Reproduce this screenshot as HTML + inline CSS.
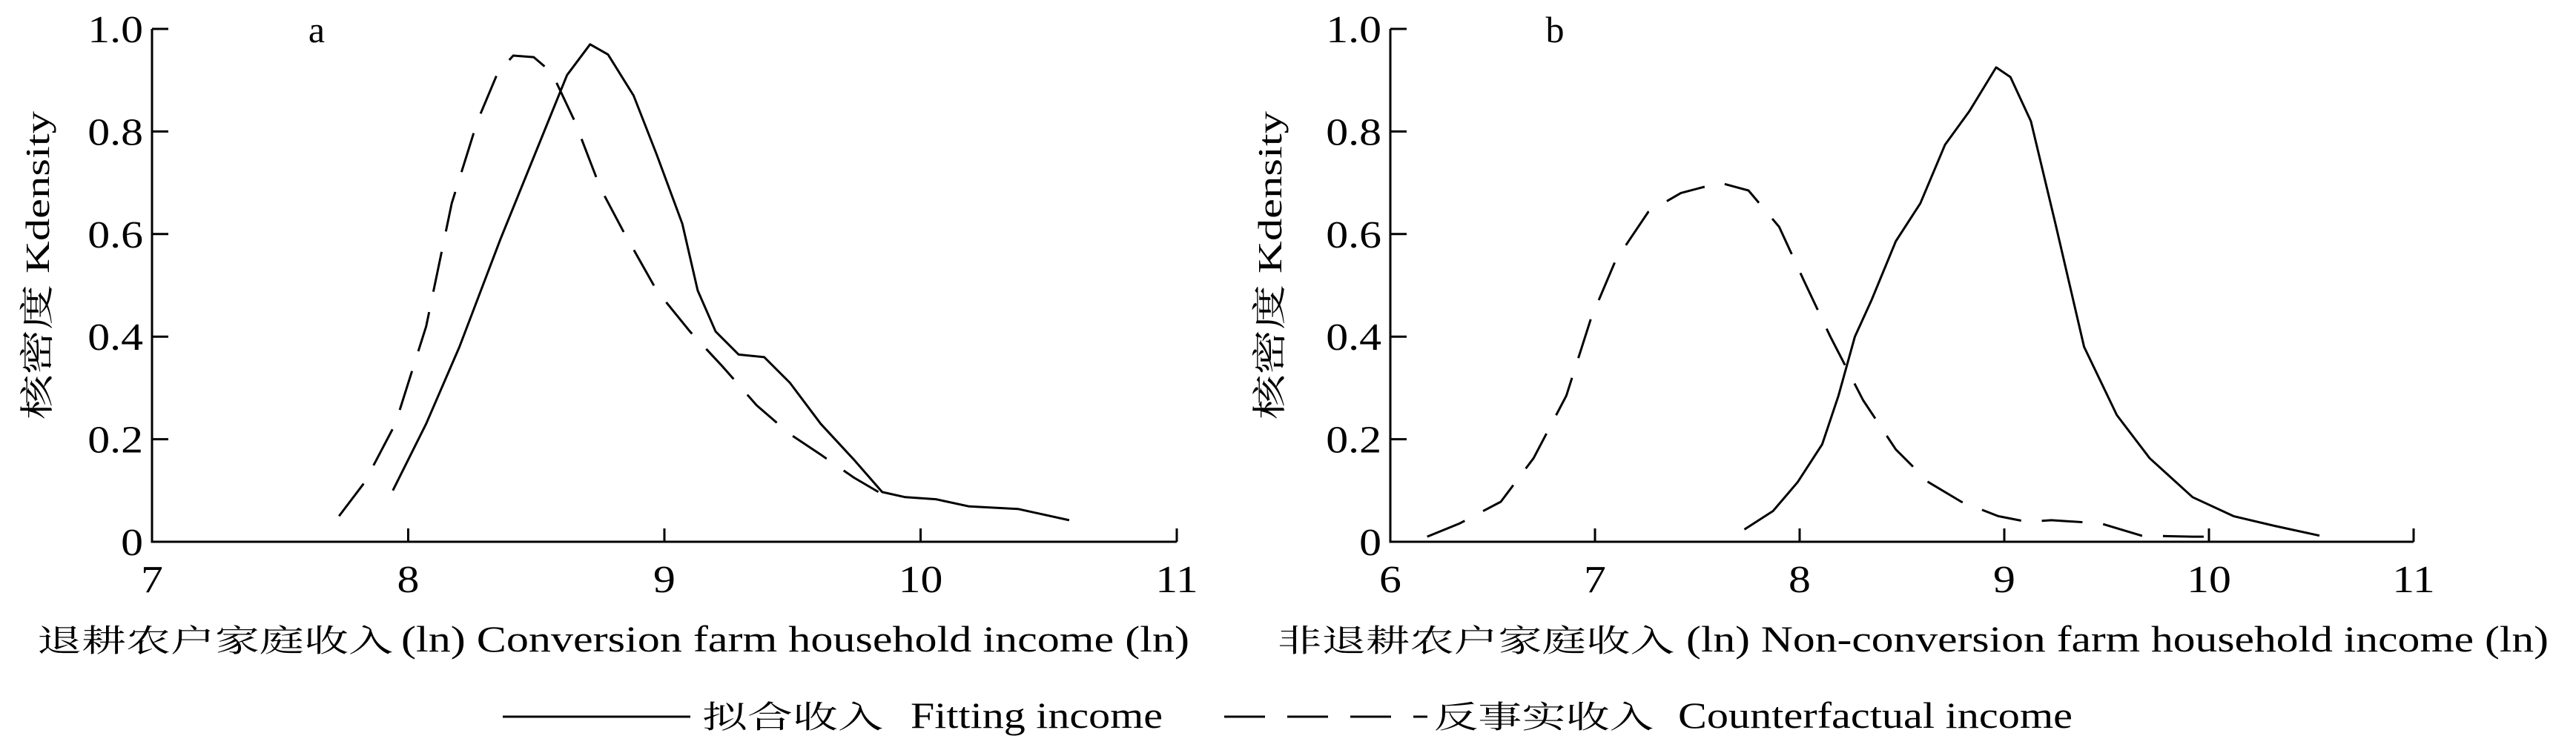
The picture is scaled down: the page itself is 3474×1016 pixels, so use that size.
<!DOCTYPE html>
<html><head><meta charset="utf-8"><style>
html,body{margin:0;padding:0;background:#fff;}
svg{display:block;}
text{font-family:"Liberation Serif","Noto Serif CJK SC","Noto Sans CJK SC",serif;fill:#000;}
</style></head><body>
<svg id="chart" width="3474" height="1016" viewBox="0 0 3474 1016" xmlns="http://www.w3.org/2000/svg">
<g id="root"></g>
<g>
  <line x1="678" y1="967" x2="931" y2="967" stroke="#000" stroke-width="3"/>
  <text x="947" y="982" font-size="42" textLength="244" lengthAdjust="spacingAndGlyphs">拟合收入</text>
  <text x="1228" y="982" font-size="50" textLength="340" lengthAdjust="spacingAndGlyphs">Fitting income</text>
  <line x1="1651" y1="967" x2="1925" y2="967" stroke="#000" stroke-width="3" stroke-dasharray="55,30"/>
  <text x="1934" y="982" font-size="42" textLength="296" lengthAdjust="spacingAndGlyphs">反事实收入</text>
  <text x="2263" y="982" font-size="50" textLength="532" lengthAdjust="spacingAndGlyphs">Counterfactual income</text>
</g>
</svg>
<script>
// Panel a data
const aFitX = [7.94,8.07,8.20,8.36,8.49,8.62,8.71,8.78,8.88,8.97,9.07,9.13,9.20,9.29,9.39,9.49,9.61,9.74,9.85,9.94,10.06,10.19,10.38,10.58];
const aFitY = [0.10,0.23,0.38,0.59,0.75,0.91,0.97,0.95,0.87,0.755,0.62,0.49,0.41,0.365,0.36,0.31,0.23,0.16,0.097,0.087,0.083,0.069,0.064,0.042];
const aCfX = [7.73,7.83,7.95,8.07,8.17,8.27,8.35,8.41,8.49,8.56,8.65,8.75,8.84,8.97,9.10,9.23,9.36,9.49,9.61,9.74,9.87];
const aCfY = [0.05,0.116,0.23,0.42,0.66,0.82,0.915,0.948,0.945,0.915,0.82,0.69,0.605,0.49,0.41,0.34,0.266,0.21,0.17,0.125,0.087];
// Panel b data
const bFitX = [7.73,7.87,7.99,8.11,8.19,8.27,8.35,8.47,8.59,8.71,8.83,8.96,9.03,9.13,9.25,9.39,9.55,9.71,9.92,10.12,10.32,10.54];
const bFitY = [0.024,0.06,0.116,0.19,0.285,0.40,0.47,0.586,0.66,0.774,0.84,0.925,0.906,0.82,0.62,0.38,0.247,0.163,0.087,0.05,0.031,0.012];
const bCfX = [6.18,6.34,6.54,6.70,6.86,6.98,7.10,7.26,7.42,7.61,7.75,7.90,8.02,8.15,8.31,8.47,8.63,8.79,8.97,9.11,9.23,9.47,9.67,9.92,10.04];
const bCfY = [0.01,0.036,0.078,0.163,0.285,0.435,0.548,0.643,0.68,0.70,0.685,0.614,0.51,0.40,0.276,0.18,0.116,0.078,0.05,0.039,0.042,0.036,0.012,0.01,0.01];
const aXTicks = [7,8,9,10,11];
const bXTicks = [6,7,8,9,10,11];
const yTicks = [0,0.2,0.4,0.6,0.8,1.0];
const yTickLabels = ["0","0.2","0.4","0.6","0.8","1.0"];

const NS = "http://www.w3.org/2000/svg";
const root = document.getElementById('root');
function mk(tag, attrs, parent){ const e=document.createElementNS(NS,tag); for(const k in attrs) e.setAttribute(k,attrs[k]); (parent||root).appendChild(e); return e; }

function panel(cfg){
  const g = mk('g',{});
  
  
  const sx = v => cfg.x0 + (v-cfg.xmin)/(cfg.xmax-cfg.xmin)*(cfg.x1-cfg.x0);
  const sy = v => 731 - v*(731-39);
  // axes
  const ax = mk('path',{d:`M${cfg.x0},39 L${cfg.x0},731 L${cfg.x1},731`,fill:'none',stroke:'#000','stroke-width':3},g);
  
  
  yTicks.forEach((t,i)=>{
    const y=sy(t);
    if(t>0){ const tk=mk('line',{x1:cfg.x0,y1:y,x2:cfg.x0+22,y2:y,stroke:'#000','stroke-width':3},g);
      
       }
    const lb=mk('text',{x:0,y:0,'font-size':52,'text-anchor':'end',transform:`translate(${cfg.x0-12},${y+18}) scale(1.15,1)`},g);
    lb.textContent=yTickLabels[i];
    
    
  });
  cfg.xticks.forEach(t=>{
    const x=sx(t);
    if(t>cfg.xmin){ const tk=mk('line',{x1:x,y1:731,x2:x,y2:713,stroke:'#000','stroke-width':3},g);
      
       }
    const lb=mk('text',{x:0,y:0,'font-size':52,'text-anchor':'middle',transform:`translate(${x},${799}) scale(1.15,1)`},g);
    lb.textContent=String(t);
    
    
  });
  const line=(xs,ys,dash,name)=>{
    const d=xs.map((v,i)=>(i?'L':'M')+sx(v).toFixed(1)+','+sy(ys[i]).toFixed(1)).join(' ');
    const p=mk('path',{d,fill:'none',stroke:'#000','stroke-width':3,'stroke-linejoin':'round'},g);
    if(dash) p.setAttribute('stroke-dasharray',dash);
    
    
  };
  line(cfg.fitX,cfg.fitY,null,'fitting-income-line-'+cfg.id);
  line(cfg.cfX,cfg.cfY,'55,28','counterfactual-income-line-'+cfg.id);
  const pl=mk('text',{x:cfg.labelX,y:57,'font-size':50,'text-anchor':'middle'},g);
  pl.textContent=cfg.id;
  
  
  // y title
  const yt=mk('text',{x:0,y:0,'font-size':46,'text-anchor':'middle',transform:`translate(${cfg.ytX},358) rotate(-90)`,textLength:416,lengthAdjust:'spacingAndGlyphs'},g);
  yt.textContent='核密度  Kdensity';
  
  
  // x title
  const c=mk('text',{x:cfg.tX0,y:879,'font-size':42,textLength:cfg.cnW,lengthAdjust:'spacingAndGlyphs'},g);
  c.textContent=cfg.cn;
  
  
  const e=mk('text',{x:cfg.enX,y:879,'font-size':50,textLength:cfg.enW,lengthAdjust:'spacingAndGlyphs'},g);
  e.textContent=cfg.en;
  
  
}
panel({id:'a',x0:205,x1:1587,xmin:7,xmax:11,xticks:aXTicks,fitX:aFitX,fitY:aFitY,cfX:aCfX,cfY:aCfY,labelX:427,ytX:66,
  tX0:50,cnW:480,cn:'退耕农户家庭收入',enX:541,enW:1063,en:'(ln)  Conversion farm household income  (ln)'});
panel({id:'b',x0:1875,x1:3255,xmin:6,xmax:11,xticks:bXTicks,fitX:bFitX,fitY:bFitY,cfX:bCfX,cfY:bCfY,labelX:2097,ytX:1728,
  tX0:1723,cnW:535,cn:'非退耕农户家庭收入',enX:2274,enW:1163,en:'(ln)  Non-conversion farm household income  (ln)'});
</script>
</body></html>
